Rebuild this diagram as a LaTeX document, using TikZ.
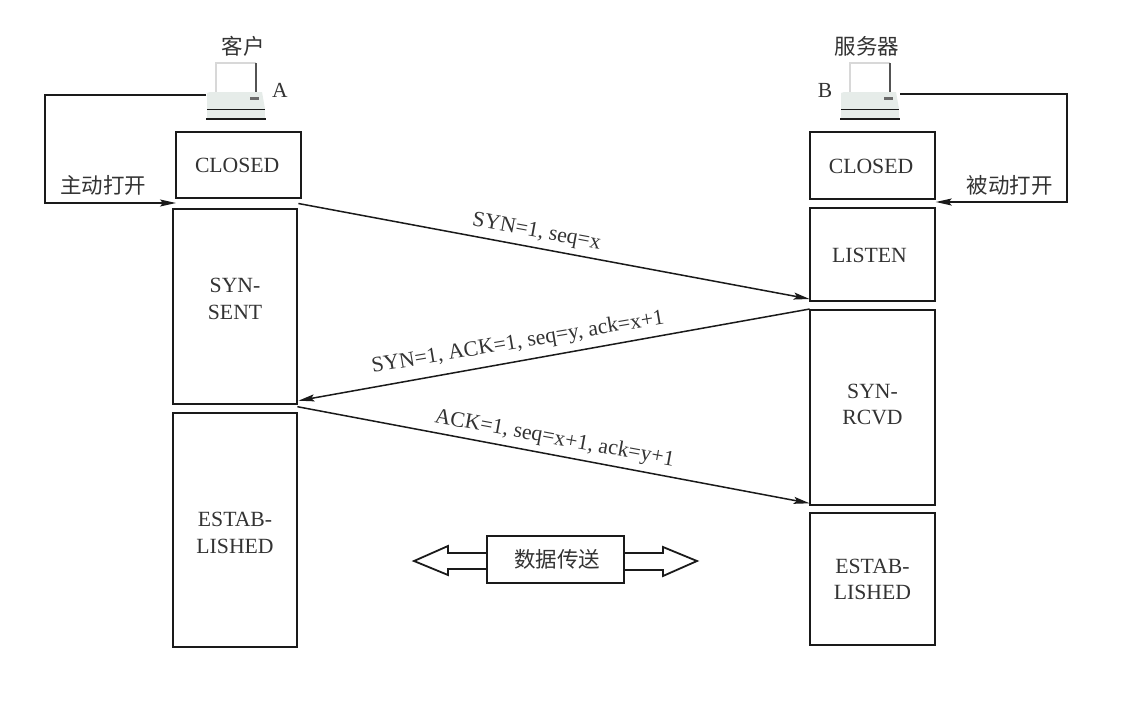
\documentclass[tikz,border=0pt]{standalone}
\usepackage{fontspec}
\setmainfont{Liberation Serif}
\newfontfamily\cjk{Noto Sans CJK SC}
\usetikzlibrary{arrows.meta,calc}
\definecolor{ink}{HTML}{1A1A1A}
\definecolor{txt}{HTML}{333333}
\definecolor{pcbase}{HTML}{E6ECE9}
\definecolor{pcedge}{HTML}{D8D8D8}
\tikzset{
  statebox/.style={draw=ink,line width=2pt,fill=white,inner sep=0pt,outer sep=0pt,text=txt,font=\fontsize{21.7}{26.5}\selectfont,align=center,anchor=north west},
  cn/.style={text=txt,font=\cjk\fontsize{21.5}{24}\selectfont,inner sep=0pt},
  lat/.style={text=txt,font=\fontsize{21.5}{24}\selectfont,inner sep=0pt},
  msg/.style={text=txt,font=\fontsize{21.8}{24}\selectfont,inner sep=0pt},
  conn/.style={draw=ink,line width=1.5pt,-{Stealth[length=16pt,width=7pt,inset=3pt]}},
  bigarrow/.style={draw=ink,line width=1.8pt,fill=white,line join=miter},
}
\newcommand{\boxat}[6]{\node[statebox,minimum width=#4 pt,minimum height=#5 pt] (#1) at (#2,#3) {#6};}
\newcommand{\lift}[2]{\raisebox{#1pt}[0pt][0pt]{#2}}
\newcommand{\two}[2]{\begin{tabular}{@{}c@{}}#1\\#2\end{tabular}}
\newcommand{\pcdraw}[2]{%
  \begin{scope}[shift={(#1,#2)}]
    \fill[white] (0,0) rectangle (40,30);
    \draw[pcedge,line width=1.3pt] (0,30) -- (0,0) -- (40,0);
    \draw[ink!75,line width=1.1pt] (40,0) -- (40,30);
    \fill[pcbase] (-9,30) -- (-6,29) -- (46,29) -- (49,46) -- (-9,46) -- cycle;
    \fill[ink!65] (34,34) rectangle (43,37);
    \draw[ink,line width=1.2pt] (-9,47) -- (49,47);
    \fill[pcbase] (-9,47) rectangle (49,55);
    \draw[ink,line width=1.3pt] (-10,56) -- (50,56);
  \end{scope}}
\begin{document}
\begin{tikzpicture}[x=1pt,y=-1pt]
\useasboundingbox (0,0) rectangle (1122,704);
\fill[white] (0,0) rectangle (1122,704);

\pcdraw{216}{63}
\pcdraw{850}{63}
\coordinate (pcA) at (206,95);
\coordinate (pcB) at (900,94);
\coordinate (elbowA) at (45,95);
\coordinate (elbowB) at (1067,94);

\node[cn] (client) at (243,46) {客户};
\node[cn] (server) at (867,46) {服务器};
\node[lat] (labelA) at (280,90) {A};
\node[lat] (labelB) at (825,90) {B};

\boxat{closedA}{175.7}{131.5}{125}{66.5}{\kern-2pt\lift{-7.4}{CLOSED}}
\boxat{sent}{172.7}{209}{124.7}{195}{\lift{0.8}{\two{SYN-}{SENT}}}
\boxat{estA}{172.7}{413.3}{124.7}{233.7}{\lift{-9.55}{\two{ESTAB-}{LISHED}}}

\boxat{closedB}{809.7}{132}{125.6}{67}{\kern-3pt\lift{-7.5}{CLOSED}}
\boxat{listen}{809.7}{207.7}{125.6}{93}{\kern-6pt\lift{-7.8}{LISTEN}}
\boxat{rcvd}{809.7}{310}{125.6}{195}{\lift{-3.7}{\two{SYN-}{RCVD}}}
\boxat{estB}{809.7}{513.3}{125.6}{131.7}{\lift{-7}{\two{ESTAB-}{LISHED}}}

\node[cn] (open1) at (103,185) {主动打开};
\node[cn] (open2) at (1009.5,185) {被动打开};

\draw[conn] (pcA) -- (elbowA) |- ($(sent.north west)+(3.3,-6)$);
\draw[conn] (pcB) -- (elbowB) |- ($(listen.north east)+(0.4,-5.7)$);

\draw[conn] ($(sent.north east)+(1,-5.5)$) -- ($(listen.south west)+(0,-1.7)$);
\draw[conn] ($(rcvd.north west)+(0,-1)$) -- ($(sent.south east)+(1,-3.3)$);
\draw[conn] ($(sent.south east)+(0,2.7)$) -- ($(rcvd.south west)+(0,-1.7)$);

\node[msg,rotate=-10.4] (m1) at (536.5,232.5) {SYN=1, seq=x};
\node[msg,rotate=9.6] (m2) at (518,343) {SYN=1, ACK=1, seq=y, ack=x+1};
\node[msg,rotate=-10.4] (m3) at (554.5,439) {ACK=1, seq=x+1, ack=y+1};

\draw[bigarrow] (487,553) -- (448,553) -- (448,546) -- (414,561) -- (448,575) -- (448,569) -- (487,569);
\draw[bigarrow] (624,553) -- (663,553) -- (663,547) -- (697,561) -- (663,576) -- (663,570) -- (624,570);
\node[draw=ink,line width=2pt,fill=white,outer sep=0pt,minimum width=137pt,minimum height=47pt,inner sep=0pt,text=txt,font=\cjk\fontsize{21.5}{24}\selectfont] (data) at (555.5,559.5) {\kern3pt 数据传送};
\end{tikzpicture}
\end{document}
